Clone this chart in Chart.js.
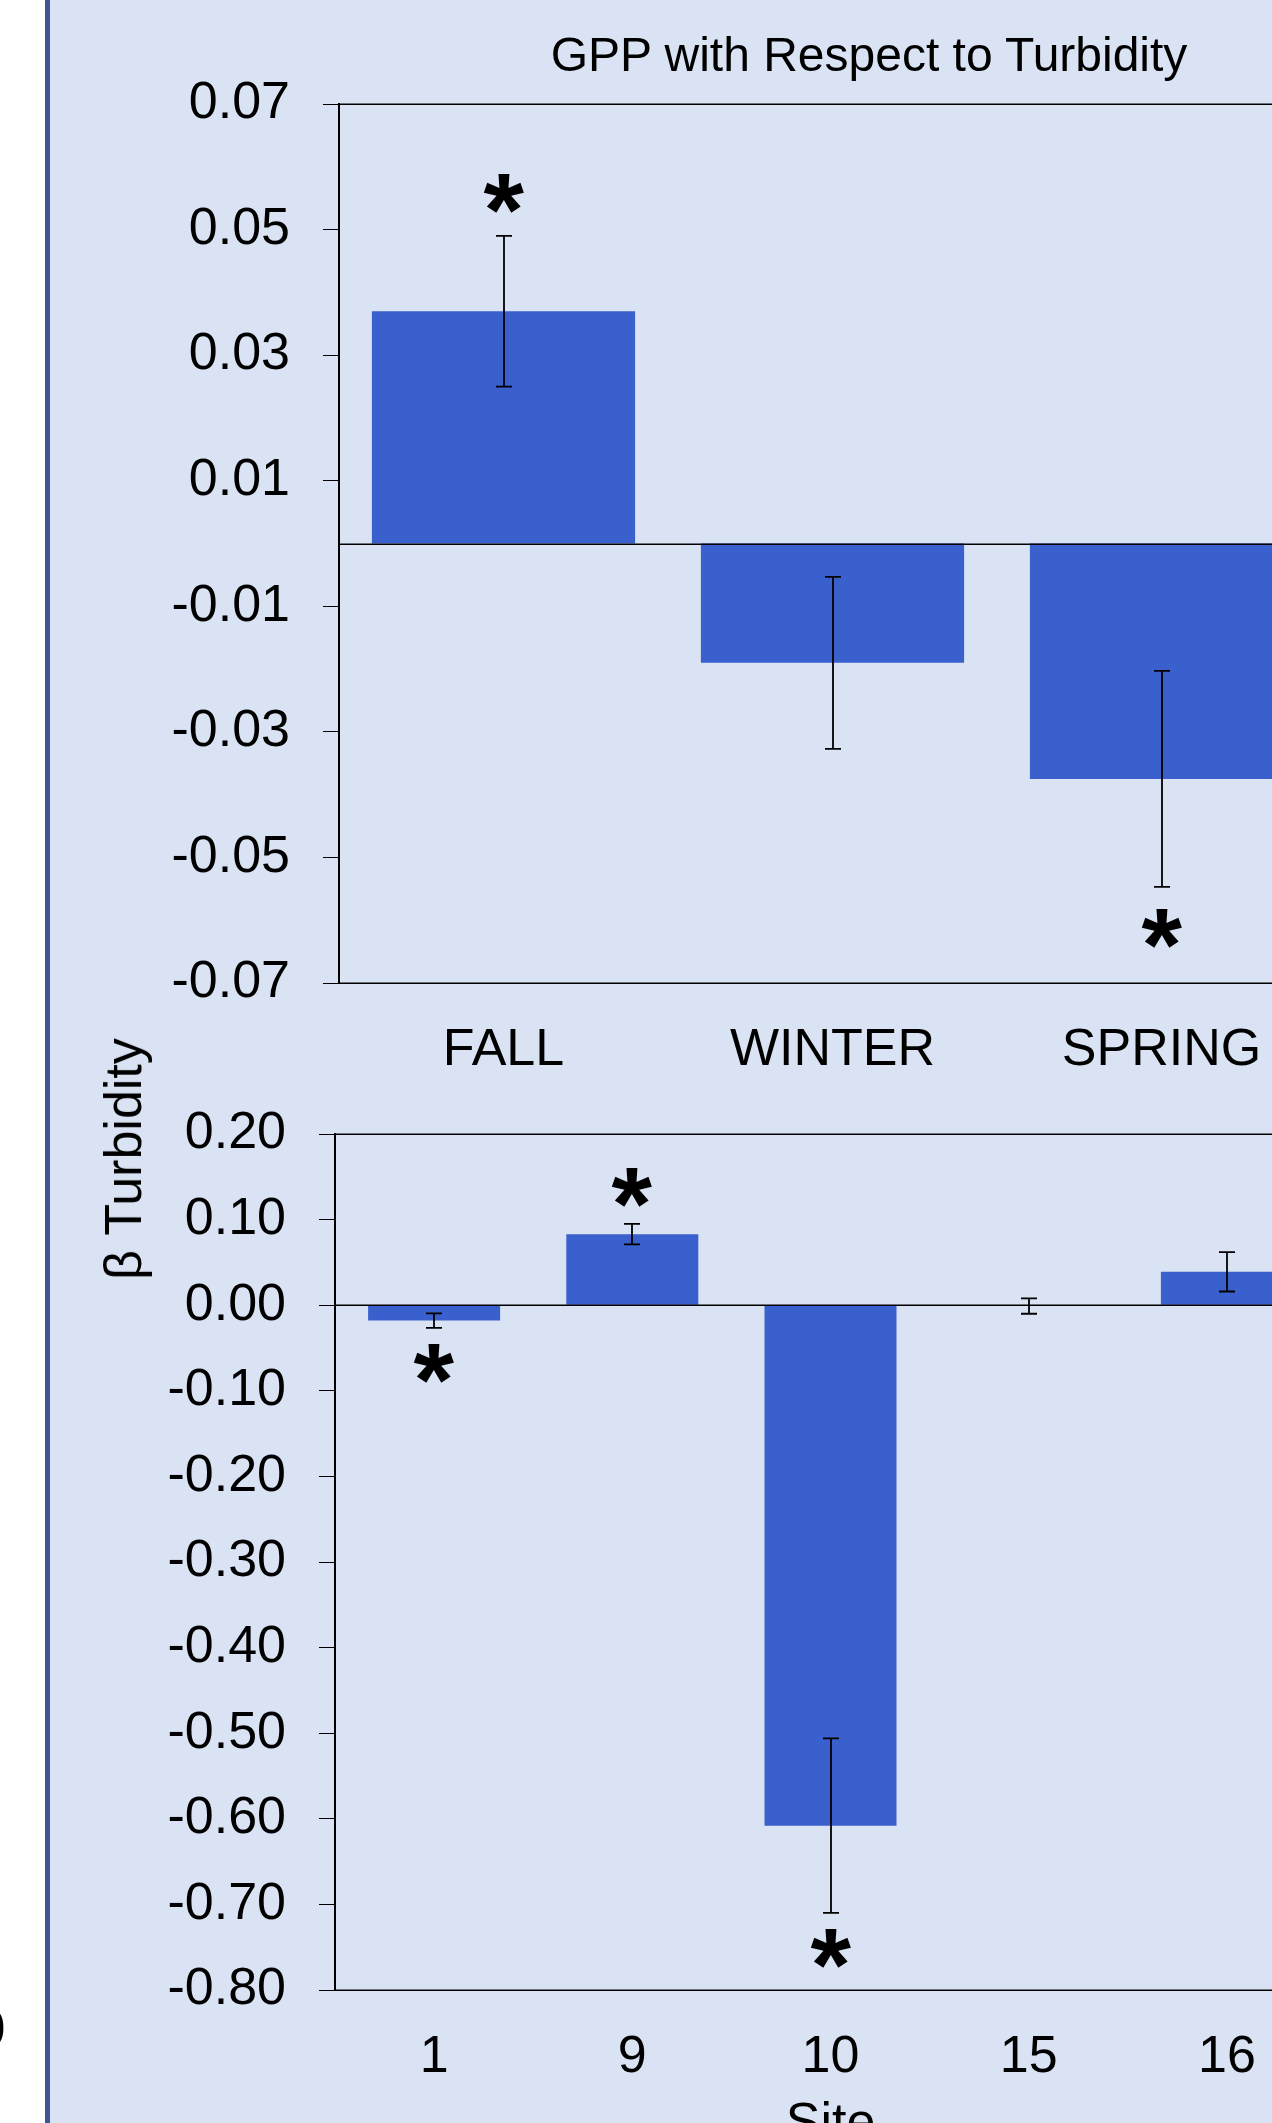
<!DOCTYPE html>
<html>
<head>
<meta charset="utf-8">
<title>GPP with Respect to Turbidity</title>
<script src="https://cdn.jsdelivr.net/npm/chart.js@4/dist/chart.umd.min.js"></script>
<style>
  html, body { margin: 0; padding: 0; background: #ffffff; overflow: hidden; width: 1272px; height: 2123px; }
  #panel { position: absolute; left: 45px; top: 0; width: 1400px; height: 2200px; background: #DAE3F3; border-left: 5px solid #3C5698; }
  canvas { position: absolute; left: 0; }
  #seasonChart { top: 0; }
  #siteChart { top: 1050px; }
  .txt { position: absolute; font-family: "Liberation Sans", Arial, sans-serif; color: #000; white-space: nowrap; }
  #mainTitle { left: 869px; top: 31px; font-size: 48px; line-height: 48px; transform: translateX(-50%); }
  #yTitle { left: 123px; top: 1159px; font-size: 52px; line-height: 60px; transform: translate(-50%, -50%) rotate(-90deg); }
  #edgeLabel { left: -23.6px; top: 1997.6px; font-size: 52px; line-height: 60px; }
</style>
</head>
<body>
<div id="panel"></div>
<canvas id="seasonChart" width="1340" height="1100"></canvas>
<canvas id="siteChart" width="1340" height="1150"></canvas>
<div class="txt" id="mainTitle">GPP with Respect to Turbidity</div>
<div class="txt" id="yTitle">β Turbidity</div>
<div class="txt" id="edgeLabel">0</div>
<script>
// Seasonal turbidity coefficients (beta) with standard errors
const seasons = ['FALL', 'WINTER', 'SPRING'];
const seasonBeta = [0.037, -0.019, -0.0375];
const seasonSE = [0.012, 0.0137, 0.0172];
const seasonSignificant = [true, false, true];
const seasonTicks = [0.07, 0.05, 0.03, 0.01, -0.01, -0.03, -0.05, -0.07];

// Site turbidity coefficients (beta) with standard errors
const sites = ['1', '9', '10', '15', '16'];
const siteBeta = [-0.018, 0.083, -0.608, -0.001, 0.039];
const siteSE = [0.0085, 0.012, 0.102, 0.009, 0.023];
const siteSignificant = [true, true, true, false, false];
const siteTicks = [0.20, 0.10, 0.00, -0.10, -0.20, -0.30, -0.40, -0.50, -0.60, -0.70, -0.80];

const FONT = '"Liberation Sans", Arial, sans-serif';
const BAR_BLUE = '#3960CC';
Chart.defaults.font.family = FONT;
Chart.defaults.color = '#000';

// Frame lines (top, bottom) and the zero reference line across the plot area
const frameLines = {
  id: 'frameLines',
  afterDatasetsDraw(chart) {
    const { ctx, chartArea } = chart;
    const y = chart.scales.y;
    ctx.save();
    ctx.strokeStyle = '#000';
    ctx.lineWidth = 1.5;
    [y.max, y.min, 0].forEach(v => {
      const py = Math.round(y.getPixelForValue(v)) + 0.25;
      ctx.beginPath();
      ctx.moveTo(chartArea.left, py);
      ctx.lineTo(chartArea.right, py);
      ctx.stroke();
    });
    ctx.restore();
  }
};

// Standard-error whiskers and significance stars
const errorBars = {
  id: 'errorBars',
  afterDatasetsDraw(chart, args, opts) {
    const { ctx } = chart;
    const y = chart.scales.y;
    const values = chart.data.datasets[0].data;
    const meta = chart.getDatasetMeta(0);
    ctx.save();
    ctx.strokeStyle = '#000';
    ctx.fillStyle = '#000';
    ctx.lineWidth = opts.lineWidth;
    meta.data.forEach((bar, i) => {
      const v = values[i];
      const e = opts.se[i];
      const x = Math.round(bar.x);
      const yHi = y.getPixelForValue(v + e);
      const yLo = y.getPixelForValue(v - e);
      const half = opts.cap / 2;
      ctx.beginPath();
      ctx.moveTo(x, yHi); ctx.lineTo(x, yLo);
      ctx.moveTo(x - half, yHi); ctx.lineTo(x + half, yHi);
      ctx.moveTo(x - half, yLo); ctx.lineTo(x + half, yLo);
      ctx.stroke();
      if (opts.significant[i]) {
        ctx.font = 'bold ' + opts.starSize + 'px ' + FONT;
        ctx.textAlign = 'left';
        ctx.textBaseline = 'alphabetic';
        const m = ctx.measureText('*');
        const cy = v >= 0 ? yHi - opts.gap : yLo + opts.gap;
        const base = cy + (m.actualBoundingBoxAscent - m.actualBoundingBoxDescent) / 2;
        const left = x - (m.actualBoundingBoxRight - m.actualBoundingBoxLeft) / 2;
        ctx.fillText('*', left, base);
      }
    });
    ctx.restore();
  }
};

function makeChart(canvasId, labels, values, cfg) {
  return new Chart(document.getElementById(canvasId), {
    type: 'bar',
    data: {
      labels: labels,
      datasets: [{
        data: values,
        backgroundColor: BAR_BLUE,
        borderWidth: 0,
        barPercentage: cfg.barPercentage,
        categoryPercentage: 1
      }]
    },
    options: {
      responsive: false,
      animation: false,
      events: [],
      layout: { padding: { top: cfg.padTop, right: 14, bottom: 0, left: 0 } },
      plugins: {
        legend: { display: false },
        tooltip: { enabled: false },
        errorBars: {
          se: cfg.se,
          significant: cfg.significant,
          cap: 16,
          lineWidth: 1.8,
          gap: cfg.starGap,
          starSize: 104
        }
      },
      scales: {
        x: {
          grid: { display: false, drawTicks: false },
          border: { display: false },
          ticks: { font: { size: 52 }, color: '#000', padding: 36, autoSkip: false, maxRotation: 0 },
          title: cfg.xTitle
            ? { display: true, text: cfg.xTitle, font: { size: 52 }, color: '#000', padding: { top: 0, bottom: 44 } }
            : { display: false },
          afterFit: s => { s.height = cfg.xHeight; }
        },
        y: {
          min: cfg.ticks[cfg.ticks.length - 1],
          max: cfg.ticks[0],
          afterBuildTicks: s => { s.ticks = cfg.ticks.map(v => ({ value: v })); },
          grid: { drawOnChartArea: false, drawTicks: true, tickLength: 16, tickColor: '#000', tickWidth: 1 },
          border: { display: true, color: '#000', width: 2 },
          ticks: { font: { size: 52 }, color: '#000', padding: 33, autoSkip: false, callback: v => v.toFixed(2) },
          afterFit: s => { s.width = cfg.yWidth; }
        }
      }
    },
    plugins: [frameLines, errorBars]
  });
}

makeChart('seasonChart', seasons, seasonBeta, {
  barPercentage: 0.8,
  padTop: 104,
  xHeight: 117,
  yWidth: 339,
  ticks: seasonTicks,
  se: seasonSE,
  significant: seasonSignificant,
  starGap: 42
});

makeChart('siteChart', sites, siteBeta, {
  barPercentage: 0.666,
  padTop: 84,
  xHeight: 210,
  yWidth: 335,
  ticks: siteTicks,
  se: siteSE,
  significant: siteSignificant,
  starGap: 36,
  xTitle: 'Site'
});
</script>
</body>
</html>
